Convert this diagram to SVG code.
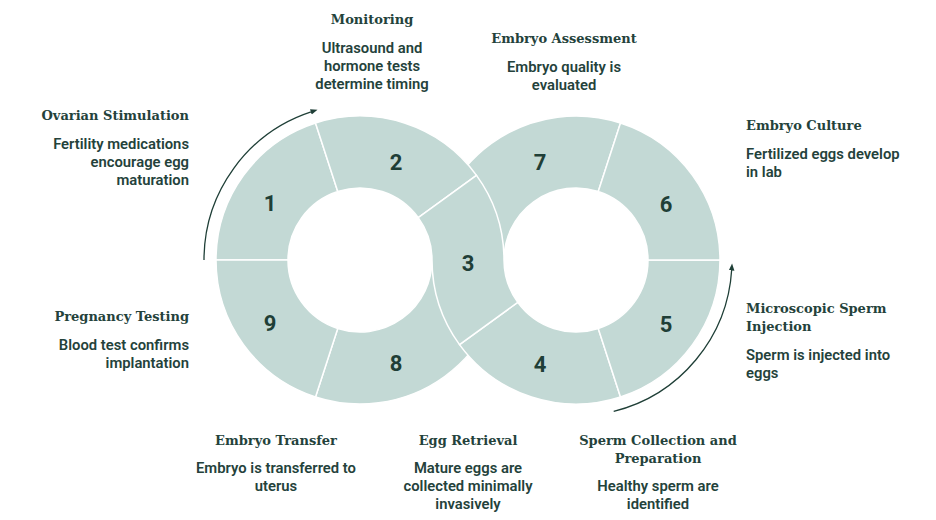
<svg xmlns="http://www.w3.org/2000/svg" width="936" height="520" viewBox="0 0 936 520">
<defs>
<style>
.seg{fill:#c3d9d5;stroke:#ffffff;stroke-width:1.5;stroke-linejoin:miter}
.num{font-family:Roboto,"Liberation Sans",sans-serif;font-weight:700;font-size:22px;fill:#1f3f37;text-anchor:middle}
.ttl{font-family:"DejaVu Serif","Liberation Serif",serif;font-weight:700;font-size:13px;fill:#24423b}
.bdy{font-family:Roboto,"Liberation Sans",sans-serif;font-weight:600;font-size:14.8px;fill:#24423b}
.r{text-anchor:end}
.m{text-anchor:middle}
.l{text-anchor:start}
.arc{fill:none;stroke:#1f3f37;stroke-width:1.3}
</style>
<marker id="ah" viewBox="0 0 8 8" refX="1" refY="4" markerWidth="8" markerHeight="8" markerUnits="userSpaceOnUse" orient="auto">
<path d="M0,1.2 L7,4 L0,6.8 Z" fill="#1f3f37"/>
</marker>
</defs>
<rect width="936" height="520" fill="#ffffff"/>

<g id="node-7">
<path class="seg" d="M432,260 A144,144 0 0 1 620.498,123.048 L598.249,191.524 A72,72 0 0 0 504,260 Z"/>
<text class="num" x="540" y="169.5">7</text>
<text class="ttl m" x="564" y="42.5">Embryo Assessment</text>
<text class="bdy m" x="564" y="71.5">Embryo quality is</text>
<text class="bdy m" x="564" y="89.5">evaluated</text>
</g>

<g id="node-8">
<path class="seg" d="M504,260 A144,144 0 0 1 315.502,396.952 L337.751,328.476 A72,72 0 0 0 432,260 Z"/>
<text class="num" x="396" y="371">8</text>
<text class="ttl m" x="276" y="444.5">Embryo Transfer</text>
<text class="bdy m" x="276" y="473">Embryo is transferred to</text>
<text class="bdy m" x="276" y="491">uterus</text>
</g>

<g id="node-1">
<path class="seg" d="M216,260 A144,144 0 0 1 315.502,123.048 L337.751,191.524 A72,72 0 0 0 288,260 Z"/>
<text class="num" x="270" y="211">1</text>
<text class="ttl r" x="189" y="119.5">Ovarian Stimulation</text>
<text class="bdy r" x="189" y="148.5">Fertility medications</text>
<text class="bdy r" x="189" y="166.5">encourage egg</text>
<text class="bdy r" x="189" y="184.5">maturation</text>
</g>

<g id="node-2">
<path class="seg" d="M315.502,123.048 A144,144 0 0 1 476.498,175.359 L418.249,217.679 A72,72 0 0 0 337.751,191.524 Z"/>
<text class="num" x="396" y="169.5">2</text>
<text class="ttl m" x="372" y="23.5">Monitoring</text>
<text class="bdy m" x="372" y="52.5">Ultrasound and</text>
<text class="bdy m" x="372" y="70.5">hormone tests</text>
<text class="bdy m" x="372" y="88.5">determine timing</text>
</g>

<g id="node-9">
<path class="seg" d="M315.502,396.952 A144,144 0 0 1 216,260 L288,260 A72,72 0 0 0 337.751,328.476 Z"/>
<text class="num" x="270" y="331">9</text>
<text class="ttl r" x="189" y="321">Pregnancy Testing</text>
<text class="bdy r" x="189" y="349.5">Blood test confirms</text>
<text class="bdy r" x="189" y="367.5">implantation</text>
</g>

<g id="node-4">
<path class="seg" d="M620.498,396.952 A144,144 0 0 1 459.502,344.641 L517.751,302.321 A72,72 0 0 0 598.249,328.476 Z"/>
<text class="num" x="540" y="372">4</text>
<text class="ttl m" x="658" y="444.5">Sperm Collection and</text>
<text class="ttl m" x="658" y="462.5">Preparation</text>
<text class="bdy m" x="658" y="491">Healthy sperm are</text>
<text class="bdy m" x="658" y="509">identified</text>
</g>

<g id="node-5">
<path class="seg" d="M720,260 A144,144 0 0 1 620.498,396.952 L598.249,328.476 A72,72 0 0 0 648,260 Z"/>
<text class="num" x="666" y="332">5</text>
<text class="ttl l" x="746" y="312.5">Microscopic Sperm</text>
<text class="ttl l" x="746" y="330.5">Injection</text>
<text class="bdy l" x="746" y="359.5">Sperm is injected into</text>
<text class="bdy l" x="746" y="377.5">eggs</text>
</g>

<g id="node-6">
<path class="seg" d="M620.498,123.048 A144,144 0 0 1 720,260 L648,260 A72,72 0 0 0 598.249,191.524 Z"/>
<text class="num" x="666" y="212">6</text>
<text class="ttl l" x="746" y="129.5">Embryo Culture</text>
<text class="bdy l" x="746" y="158.5">Fertilized eggs develop</text>
<text class="bdy l" x="746" y="176.5">in lab</text>
</g>

<g id="node-3">
<path class="seg" d="M418.249,217.679 L476.498,175.359 A144,144 0 0 1 504,260 A72,72 0 0 0 517.751,302.321 L459.502,344.641 A144,144 0 0 1 432,260 A72,72 0 0 0 418.249,217.679 Z"/>
<text class="num" x="468" y="271">3</text>
<text class="ttl m" x="468" y="444.5">Egg Retrieval</text>
<text class="bdy m" x="468" y="473">Mature eggs are</text>
<text class="bdy m" x="468" y="491">collected minimally</text>
<text class="bdy m" x="468" y="509">invasively</text>
</g>

<g id="connectors">
<path class="arc" marker-end="url(#ah)" d="M204,260 A156,156 0 0 1 311.8,111.6"/>
<path class="arc" marker-end="url(#ah)" d="M613.7,411.4 A156,156 0 0 0 731.7,269.5"/>
</g>
</svg>
